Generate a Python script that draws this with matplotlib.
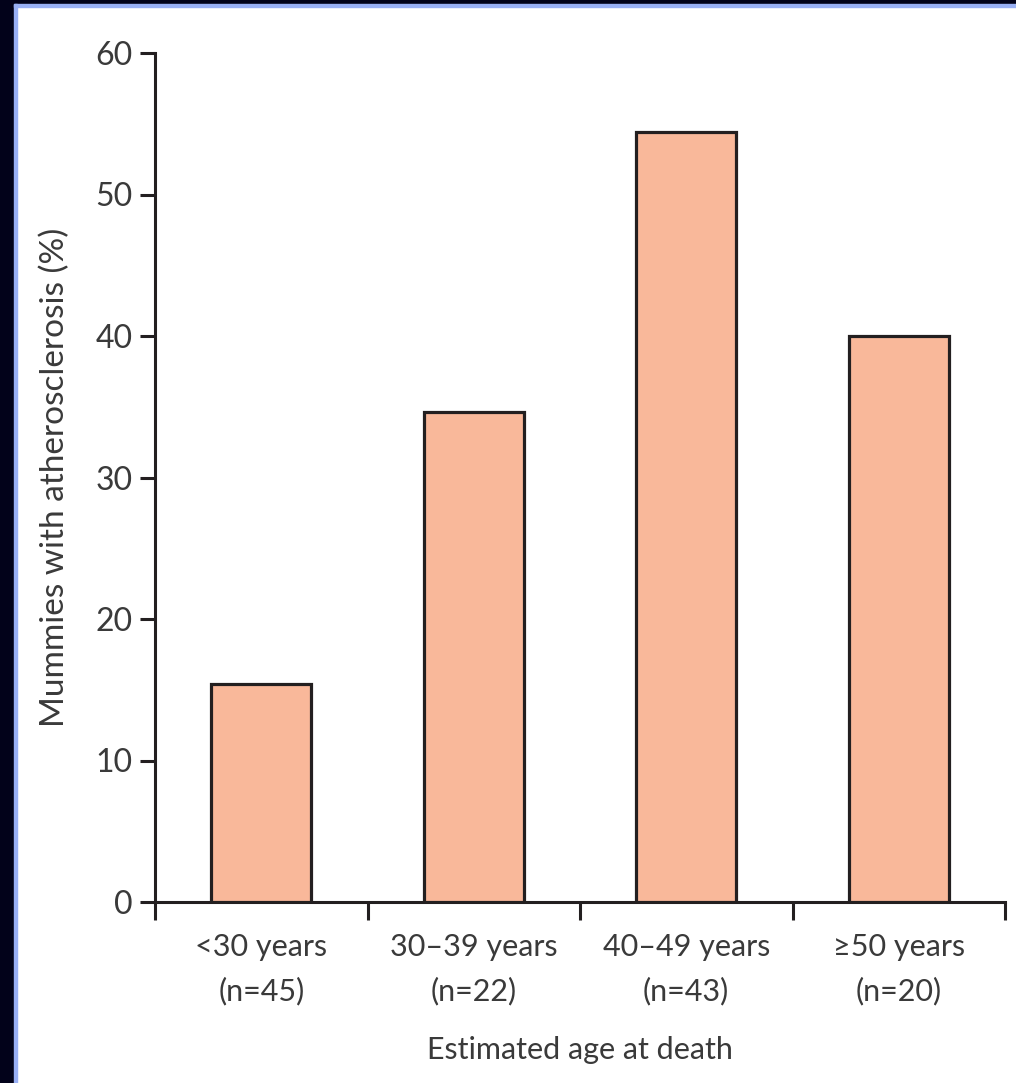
import matplotlib.pyplot as plt
from matplotlib.patches import Rectangle

# data
age_groups = ['<30 years', '30–39 years', '40–49 years', '≥50 years']
n_counts = [45, 22, 43, 20]
pct_athero = [15.4, 34.6, 54.4, 40.0]
y_ticks = [0, 10, 20, 30, 40, 50, 60]

plt.rcParams['font.family'] = ['Lato', 'DejaVu Sans']
txt_col = '#3a3a3a'

fig = plt.figure(figsize=(10.16, 10.83), dpi=100)
fig.patch.set_facecolor('white')

# dark frame + light blue inner line (left and top)
fig.patches.append(Rectangle((0, 0), 14/1016, 1, transform=fig.transFigure, color='#02021a', zorder=0))
fig.patches.append(Rectangle((0, 1 - 4/1083), 1, 4/1083, transform=fig.transFigure, color='#02021a', zorder=0))
fig.patches.append(Rectangle((14/1016, 0), 3/1016, 1 - 4/1083, transform=fig.transFigure, color='#99b0f5', zorder=0))
fig.patches.append(Rectangle((14/1016, 1 - 7/1083), 1, 3/1083, transform=fig.transFigure, color='#99b0f5', zorder=0))

ax = fig.add_axes([155/1016, 1 - 902/1083, 850/1016, 849/1083])
x = range(len(age_groups))
ax.bar(x, pct_athero, width=0.47, color='#f9b89a', edgecolor='#231f20', linewidth=2.3, zorder=3)

ax.set_xlim(-0.5, 3.5)
ax.set_ylim(0, 60)
ax.set_yticks(y_ticks)
ax.set_yticklabels([str(t) for t in y_ticks], fontsize=23, color=txt_col)
ax.set_xticks([-0.5, 0.5, 1.5, 2.5, 3.5])
ax.set_xticklabels([])
ax.set_xticks(list(x), minor=True)
ax.set_xticklabels([f'{g}\n(n={n})' for g, n in zip(age_groups, n_counts)], minor=True,
                   fontsize=22, color=txt_col, linespacing=1.7)
ax.tick_params(axis='x', which='major', direction='out', length=13, width=2.2, color='#231f20')
ax.tick_params(axis='x', which='minor', length=0, pad=22)
ax.tick_params(axis='y', direction='out', length=11, width=2.2, color='#231f20', pad=5)

for s in ['top', 'right']:
    ax.spines[s].set_visible(False)
for s in ['left', 'bottom']:
    ax.spines[s].set_linewidth(2.2)
    ax.spines[s].set_color('#231f20')
ax.spines['left'].set_bounds(0, 60)

ax.set_ylabel('Mummies with atherosclerosis (%)', fontsize=24, color=txt_col, labelpad=18)
ax.set_xlabel('Estimated age at death', fontsize=22, color=txt_col, labelpad=22)

fig.savefig('out.png', dpi=100)
